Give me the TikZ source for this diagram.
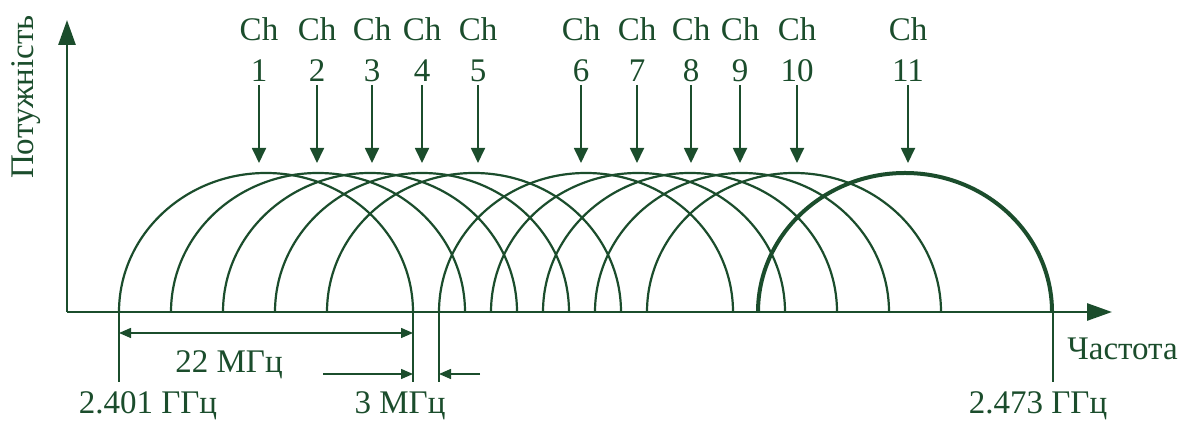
\documentclass[tikz,border=0pt]{standalone}
\usepackage{fontspec}
\setmainfont{Liberation Serif}
\usetikzlibrary{arrows.meta}
\definecolor{wgreen}{HTML}{1B4D2C}
\tikzset{
  axisline/.style={wgreen,line width=1.4pt,-{Triangle[length=12.5pt,width=8.5pt]}},
  spectrum/.style={wgreen,line width=1.1pt},
  spectrumbold/.style={spectrum,line width=2pt},
  chlabel/.style={text=wgreen,font=\fontsize{16.5}{20.5}\selectfont,align=center,inner sep=1.5pt},
  lbl/.style={text=wgreen,font=\fontsize{16.5}{20}\selectfont,inner sep=0pt},
  chpoint/.style={-{Triangle[length=7.5pt,width=7pt]},wgreen,line width=0.9pt},
  guide/.style={wgreen,line width=0.9pt},
  dimline/.style={wgreen,line width=0.7pt,>={Triangle[length=6pt,width=5pt]}},
}

\begin{document}
\begin{tikzpicture}[x=0.5pt,y=0.5pt]
\useasboundingbox (0,0) rectangle (1181,421);

% --- axes ---
\coordinate (O) at (67,109);
\coordinate (fmax) at (1112,109);
\coordinate (pmax) at (67,401);
\draw[axisline] (O) -- (fmax);
\draw[axisline] (O) -- (pmax);
\node[lbl,rotate=90,anchor=base] (pw) at (33,324) {Потужність};
\node[lbl,anchor=base west] (fr) at (1067,61) {Частота};

% --- channel spectra ---
\foreach \lx in {119,171,223,275,327,439,491,543,595,647}
  \draw[spectrum] (\lx,109) arc[start angle=180,end angle=0,x radius=73.5pt,y radius=69.5pt];
\draw[spectrumbold] (758,109) arc[start angle=180,end angle=0,x radius=73.5pt,y radius=69.5pt];

% --- channel labels ---
\foreach \n/\x in {1/259,2/317,3/372,4/422,5/478,6/581,7/637,8/691,9/740,10/797,11/908} {
  \node[chlabel,anchor=south] (ch\n) at (\x,336) {Ch\\\n};
  \coordinate (top\n) at (\x,258);
  \draw[chpoint] (ch\n.south) -- (top\n);
}

% --- band edges and spacing ---
\coordinate (f1)  at (119,109);  \coordinate (f1b)  at (119,39);
\coordinate (e1)  at (413,109);  \coordinate (e1b)  at (413,39);
\coordinate (s6)  at (439,109);  \coordinate (s6b)  at (439,39);
\coordinate (e11) at (1053,109); \coordinate (e11b) at (1053,39);
\foreach \a/\b in {f1/f1b, e1/e1b, s6/s6b, e11/e11b}
  \draw[guide] (\a) -- (\b);

\coordinate (w1) at (119,88);
\coordinate (w2) at (413,88);
\draw[dimline,<->] (w1) -- (w2);
\node[lbl,anchor=base] (bw) at (229,48) {22 МГц};

\coordinate (g1) at (323,47);
\coordinate (g2) at (413,47);
\coordinate (g3) at (439,47);
\coordinate (g4) at (480,47);
\draw[dimline,->] (g1) -- (g2);
\draw[dimline,->] (g4) -- (g3);
\node[lbl,anchor=base] (gap) at (400,7) {3 МГц};

\node[lbl,anchor=base] (fstart) at (148,7) {2.401 ГГц};
\node[lbl,anchor=base] (fend)   at (1038,7) {2.473 ГГц};

\end{tikzpicture}
\end{document}
